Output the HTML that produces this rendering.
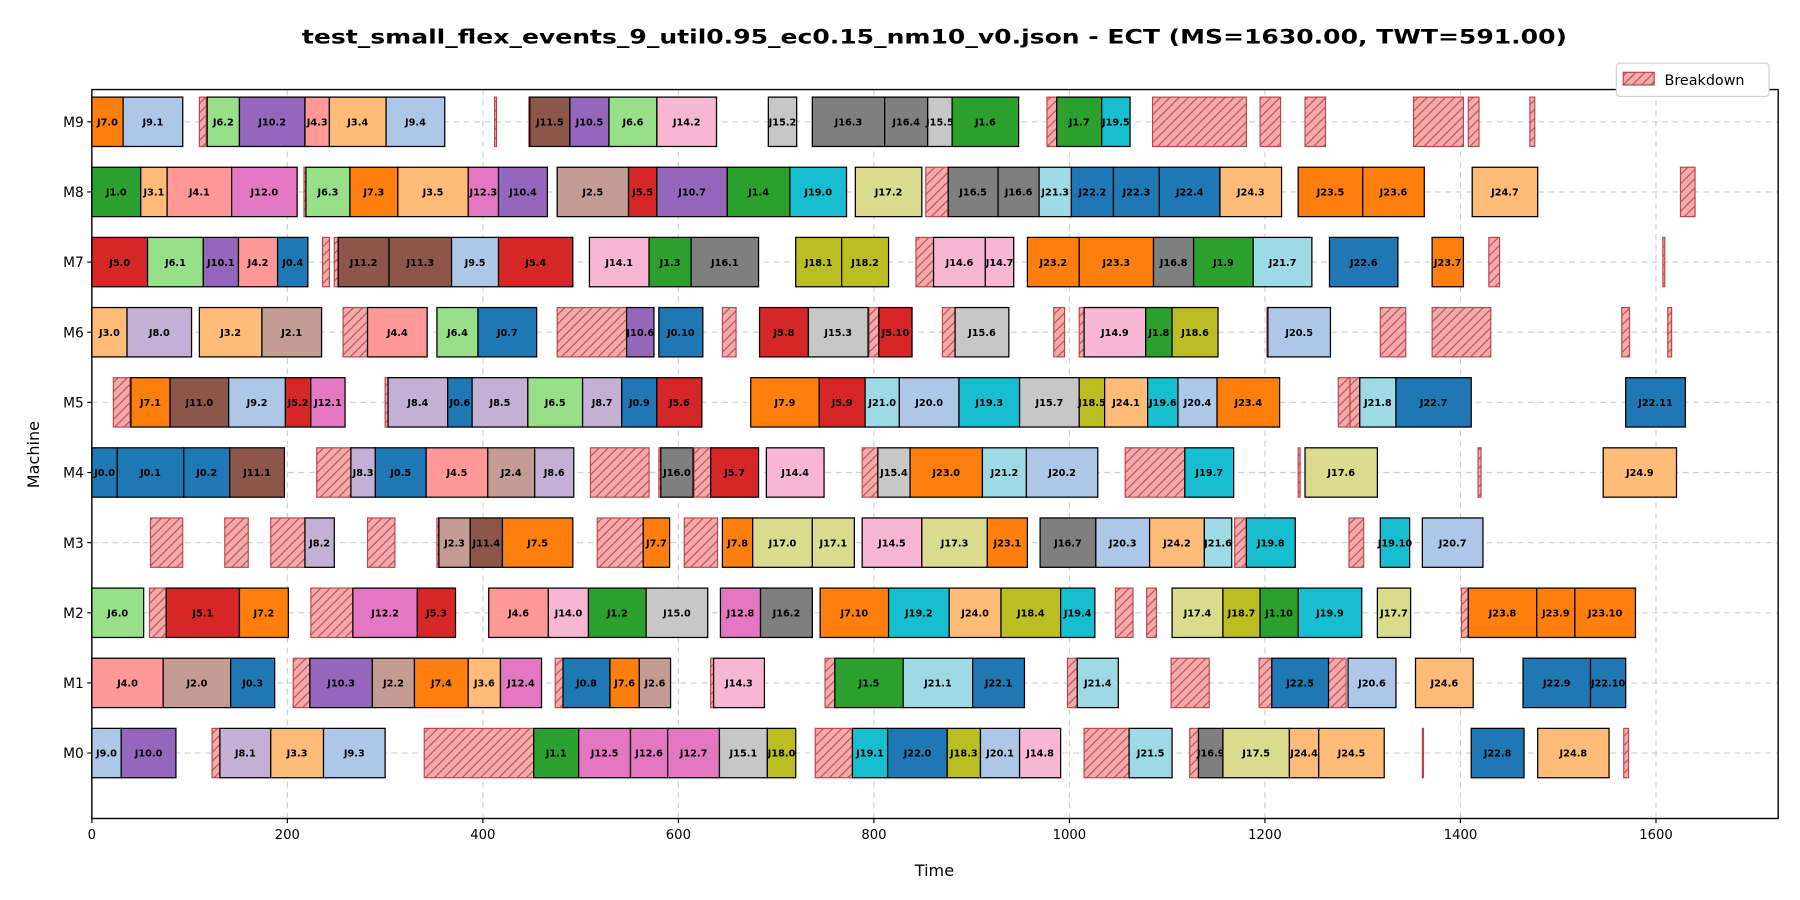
<!DOCTYPE html>
<html><head><meta charset="utf-8"><style>
html,body{margin:0;padding:0;background:#fff}
svg{display:block;font-family:"DejaVu Sans","Liberation Sans",sans-serif}
</style></head><body>
<svg id="chart" width="1800" height="900" viewBox="0 0 1568 784" xmlns="http://www.w3.org/2000/svg">
<defs>
<pattern id="hatch" patternUnits="userSpaceOnUse" width="8" height="8">
<rect width="8" height="8" fill="#f4aaaa"/>
<path d="M-2,2 l4,-4 M0,8 l8,-8 M6,10 l4,-4" stroke="#b8454a" stroke-width="0.9"/>
</pattern>
</defs>
<text x="814" y="38" text-anchor="middle" font-size="17" font-weight="bold" textLength="1102" lengthAdjust="spacingAndGlyphs">test_small_flex_events_9_util0.95_ec0.15_nm10_v0.json - ECT (MS=1630.00, TWT=591.00)</text>
<g id="grid"></g>
<g id="marks"></g>
<g id="axes"></g>
<text x="814" y="763" text-anchor="middle" font-size="14">Time</text>
<text transform="translate(34,396) rotate(-90)" text-anchor="middle" font-size="14">Machine</text>
<g>
<rect x="1408" y="55" width="133" height="29" fill="#fff" stroke="#d0d0d0" rx="3"/>
<rect x="1414" y="63" width="27" height="11" fill="url(#hatch)" stroke="#b8454a"/>
<text x="1450" y="74" font-size="12.5">Breakdown</text>
</g>
</svg>
<script>
const machines = ["M0","M1","M2","M3","M4","M5","M6","M7","M8","M9"];
const xTicks = [0,200,400,600,800,1000,1200,1400,1600];
const jobColors = ["#1f77b4","#2ca02c","#c49c94","#ffbb78","#ff9896","#d62728","#98df8a","#ff7f0e","#c5b0d5","#aec7e8","#9467bd","#8c564b","#e377c2","#f7b6d2","#f7b6d2","#c7c7c7","#7f7f7f","#dbdb8d","#bcbd22","#17becf","#aec7e8","#9edae5","#1f77b4","#ff7f0e","#ffbb78"];
const opsM9 = [["J7.0",0,32],["J9.1",32,93],["J6.2",118,151],["J10.2",151,218],["J4.3",218,243],["J3.4",243,301],["J9.4",301,361],["J11.5",448,489],["J10.5",489,529],["J6.6",529,578],["J14.2",578,639],["J15.2",692,721],["J16.3",737,811],["J16.4",811,855],["J15.5",855,880],["J1.6",880,948],["J1.7",987,1033],["J19.5",1033,1062]];
const opsM8 = [["J1.0",0,50],["J3.1",50,77],["J4.1",77,143],["J12.0",143,210],["J6.3",219,264],["J7.3",264,313],["J3.5",313,385],["J12.3",385,416],["J10.4",416,466],["J2.5",476,549],["J5.5",549,578],["J10.7",578,650],["J1.4",650,714],["J19.0",714,772],["J17.2",781,849],["J16.5",876,927],["J16.6",927,969],["J21.3",969,1002],["J22.2",1002,1045],["J22.3",1045,1092],["J22.4",1092,1154],["J24.3",1154,1217],["J23.5",1234,1300],["J23.6",1300,1363],["J24.7",1412,1479]];
const opsM7 = [["J5.0",0,57],["J6.1",57,114],["J10.1",114,150],["J4.2",150,190],["J0.4",190,221],["J11.2",252,304],["J11.3",304,368],["J9.5",368,416],["J5.4",416,492],["J14.1",509,570],["J1.3",570,613],["J16.1",613,682],["J18.1",720,767],["J18.2",767,815],["J14.6",861,914],["J14.7",914,943],["J23.2",957,1010],["J23.3",1010,1086],["J16.8",1086,1127],["J1.9",1127,1188],["J21.7",1188,1248],["J22.6",1266,1336],["J23.7",1371,1403]];
const opsM6 = [["J3.0",0,36],["J8.0",36,102],["J3.2",110,174],["J2.1",174,235],["J4.4",282,343],["J6.4",353,395],["J0.7",395,455],["J10.6",547,575],["J0.10",580,625],["J5.8",683,733],["J15.3",733,794],["J5.10",805,839],["J15.6",883,938],["J14.9",1015,1078],["J1.8",1078,1105],["J18.6",1105,1152],["J20.5",1203,1267]];
const opsM5 = [["J7.1",40,80],["J11.0",80,140],["J9.2",140,198],["J5.2",198,224],["J12.1",224,259],["J8.4",303,364],["J0.6",364,389],["J8.5",389,446],["J6.5",446,502],["J8.7",502,542],["J0.9",542,578],["J5.6",578,624],["J7.9",674,744],["J5.9",744,791],["J21.0",791,826],["J20.0",826,887],["J19.3",887,949],["J15.7",949,1010],["J18.5",1010,1036],["J24.1",1036,1080],["J19.6",1080,1111],["J20.4",1111,1151],["J23.4",1151,1215],["J21.8",1297,1334],["J22.7",1334,1411],["J22.11",1569,1630]];
const opsM4 = [["J0.0",0,26],["J0.1",26,94],["J0.2",94,141],["J11.1",141,197],["J8.3",265,290],["J0.5",290,342],["J4.5",342,405],["J2.4",405,453],["J8.6",453,493],["J16.0",582,615],["J5.7",633,682],["J14.4",690,749],["J15.4",804,837],["J23.0",837,911],["J21.2",911,956],["J20.2",956,1029],["J19.7",1118,1168],["J17.6",1241,1315],["J24.9",1546,1621]];
const opsM3 = [["J8.2",218,248],["J2.3",355,387],["J11.4",387,420],["J7.5",420,492],["J7.7",564,591],["J7.8",645,676],["J17.0",676,737],["J17.1",737,780],["J14.5",788,849],["J17.3",849,916],["J23.1",916,957],["J16.7",970,1027],["J20.3",1027,1082],["J24.2",1082,1138],["J21.6",1138,1166],["J19.8",1181,1231],["J19.10",1318,1348],["J20.7",1361,1423]];
const opsM2 = [["J6.0",0,53],["J5.1",76,151],["J7.2",151,201],["J12.2",267,333],["J5.3",333,372],["J4.6",406,467],["J14.0",467,508],["J1.2",508,567],["J15.0",567,630],["J12.8",643,684],["J16.2",684,737],["J7.10",745,815],["J19.2",815,877],["J24.0",877,930],["J18.4",930,991],["J19.4",991,1026],["J17.4",1105,1157],["J18.7",1157,1195],["J1.10",1195,1234],["J19.9",1234,1299],["J17.7",1315,1349],["J23.8",1408,1478],["J23.9",1478,1517],["J23.10",1517,1579]];
const opsM1 = [["J4.0",0,73],["J2.0",73,142],["J0.3",142,187],["J10.3",223,287],["J2.2",287,330],["J7.4",330,385],["J3.6",385,418],["J12.4",418,460],["J0.8",482,530],["J7.6",530,560],["J2.6",560,592],["J14.3",636,688],["J1.5",760,830],["J21.1",830,901],["J22.1",901,954],["J21.4",1008,1050],["J22.5",1207,1265],["J20.6",1285,1334],["J24.6",1354,1413],["J22.9",1464,1533],["J22.10",1533,1569]];
const opsM0 = [["J9.0",0,30],["J10.0",30,86],["J8.1",131,183],["J3.3",183,237],["J9.3",237,300],["J1.1",452,498],["J12.5",498,551],["J12.6",551,589],["J12.7",589,642],["J15.1",642,691],["J18.0",691,720],["J19.1",778,814],["J22.0",814,875],["J18.3",875,909],["J20.1",909,949],["J14.8",949,991],["J21.5",1061,1105],["J16.9",1132,1157],["J17.5",1157,1225],["J24.4",1225,1255],["J24.5",1255,1322],["J22.8",1411,1465],["J24.8",1479,1552]];
const bdM9 = [[110,117],[412,414],[447,448],[977,987],[1085,1181],[1195,1216],[1241,1262],[1352,1403],[1408,1419],[1471,1476]];
const bdM8 = [[217,219],[853,876],[1625,1640]];
const bdM7 = [[236,243],[248,252],[843,861],[1429,1440],[1607,1609]];
const bdM6 = [[257,282],[476,547],[645,659],[795,805],[870,883],[984,995],[1010,1015],[1202,1203],[1318,1344],[1371,1431],[1565,1573],[1612,1616]];
const bdM5 = [[22,39],[300,303],[1275,1287],[1287,1297]];
const bdM4 = [[230,265],[510,570],[580,582],[616,633],[788,804],[1057,1118],[1234,1236],[1418,1421]];
const bdM3 = [[60,93],[136,160],[183,218],[282,310],[353,355],[517,564],[606,640],[1169,1181],[1286,1301]];
const bdM2 = [[59,76],[224,267],[1047,1065],[1079,1089],[1401,1408]];
const bdM1 = [[206,223],[474,482],[633,636],[750,760],[998,1008],[1104,1143],[1194,1207],[1265,1283]];
const bdM0 = [[123,131],[340,452],[740,778],[1015,1061],[1123,1132],[1361,1362],[1567,1572]];
const allOps = [opsM0,opsM1,opsM2,opsM3,opsM4,opsM5,opsM6,opsM7,opsM8,opsM9];
const allBd = [bdM0,bdM1,bdM2,bdM3,bdM4,bdM5,bdM6,bdM7,bdM8,bdM9];

const NS="http://www.w3.org/2000/svg";
const L=80,R=1549,T=78,B=713,XMAX=1725;
const xs=t=>L+t*(R-L)/XMAX;
const ys=i=>656-i*61.1;
const BH=43;
function mk(tag,attrs,parent){const e=document.createElementNS(NS,tag);for(const k in attrs)e.setAttribute(k,attrs[k]);parent.appendChild(e);return e;}
const grid=document.getElementById('grid'),marks=document.getElementById('marks'),axes=document.getElementById('axes');
xTicks.forEach(t=>{
  const g=mk('line',{x1:xs(t),x2:xs(t),y1:T,y2:B,stroke:'#cfcfcf','stroke-dasharray':'5,4','stroke-width':1},grid);
  
  
  const tk=mk('line',{x1:xs(t),x2:xs(t),y1:B,y2:B+4,stroke:'#000'},axes);
  
  
  const tl=mk('text',{x:xs(t),y:B+18,'text-anchor':'middle','font-size':11.5},axes);
  tl.textContent=t;
  
  
});
machines.forEach((m,i)=>{
  const g=mk('line',{x1:L,x2:R,y1:ys(i),y2:ys(i),stroke:'#cfcfcf','stroke-dasharray':'5,4','stroke-width':1},grid);
  
  
  const tk=mk('line',{x1:L-4,x2:L,y1:ys(i),y2:ys(i),stroke:'#000'},axes);
  
  
  const tl=mk('text',{x:L-7,y:ys(i)+4.5,'text-anchor':'end','font-size':12},axes);
  tl.textContent=m;
  
  
});
allBd.forEach((arr,i)=>arr.forEach(b=>{
  const r=mk('rect',{x:xs(b[0]),y:ys(i)-BH/2,width:Math.max(1,xs(b[1])-xs(b[0])),height:BH,fill:'url(#hatch)',stroke:'#b8454a','stroke-width':1},marks);
  
  
}));
allOps.forEach((arr,i)=>arr.forEach(o=>{
  const job=parseInt(o[0].slice(1));
  const x0=xs(o[1]),x1=xs(o[2]);
  const r=mk('rect',{x:x0,y:ys(i)-BH/2,width:x1-x0,height:BH,fill:jobColors[job],stroke:'#000','stroke-width':1.1},marks);
  
  
  const t=mk('text',{x:(x0+x1)/2,y:ys(i)+3.2,'text-anchor':'middle','font-size':8.5,'font-weight':'bold'},marks);
  t.textContent=o[0];
  
  
}));
const frame=mk('rect',{x:L,y:T,width:R-L,height:B-T,fill:'none',stroke:'#000','stroke-width':1.2},axes);


</script>
</body></html>
